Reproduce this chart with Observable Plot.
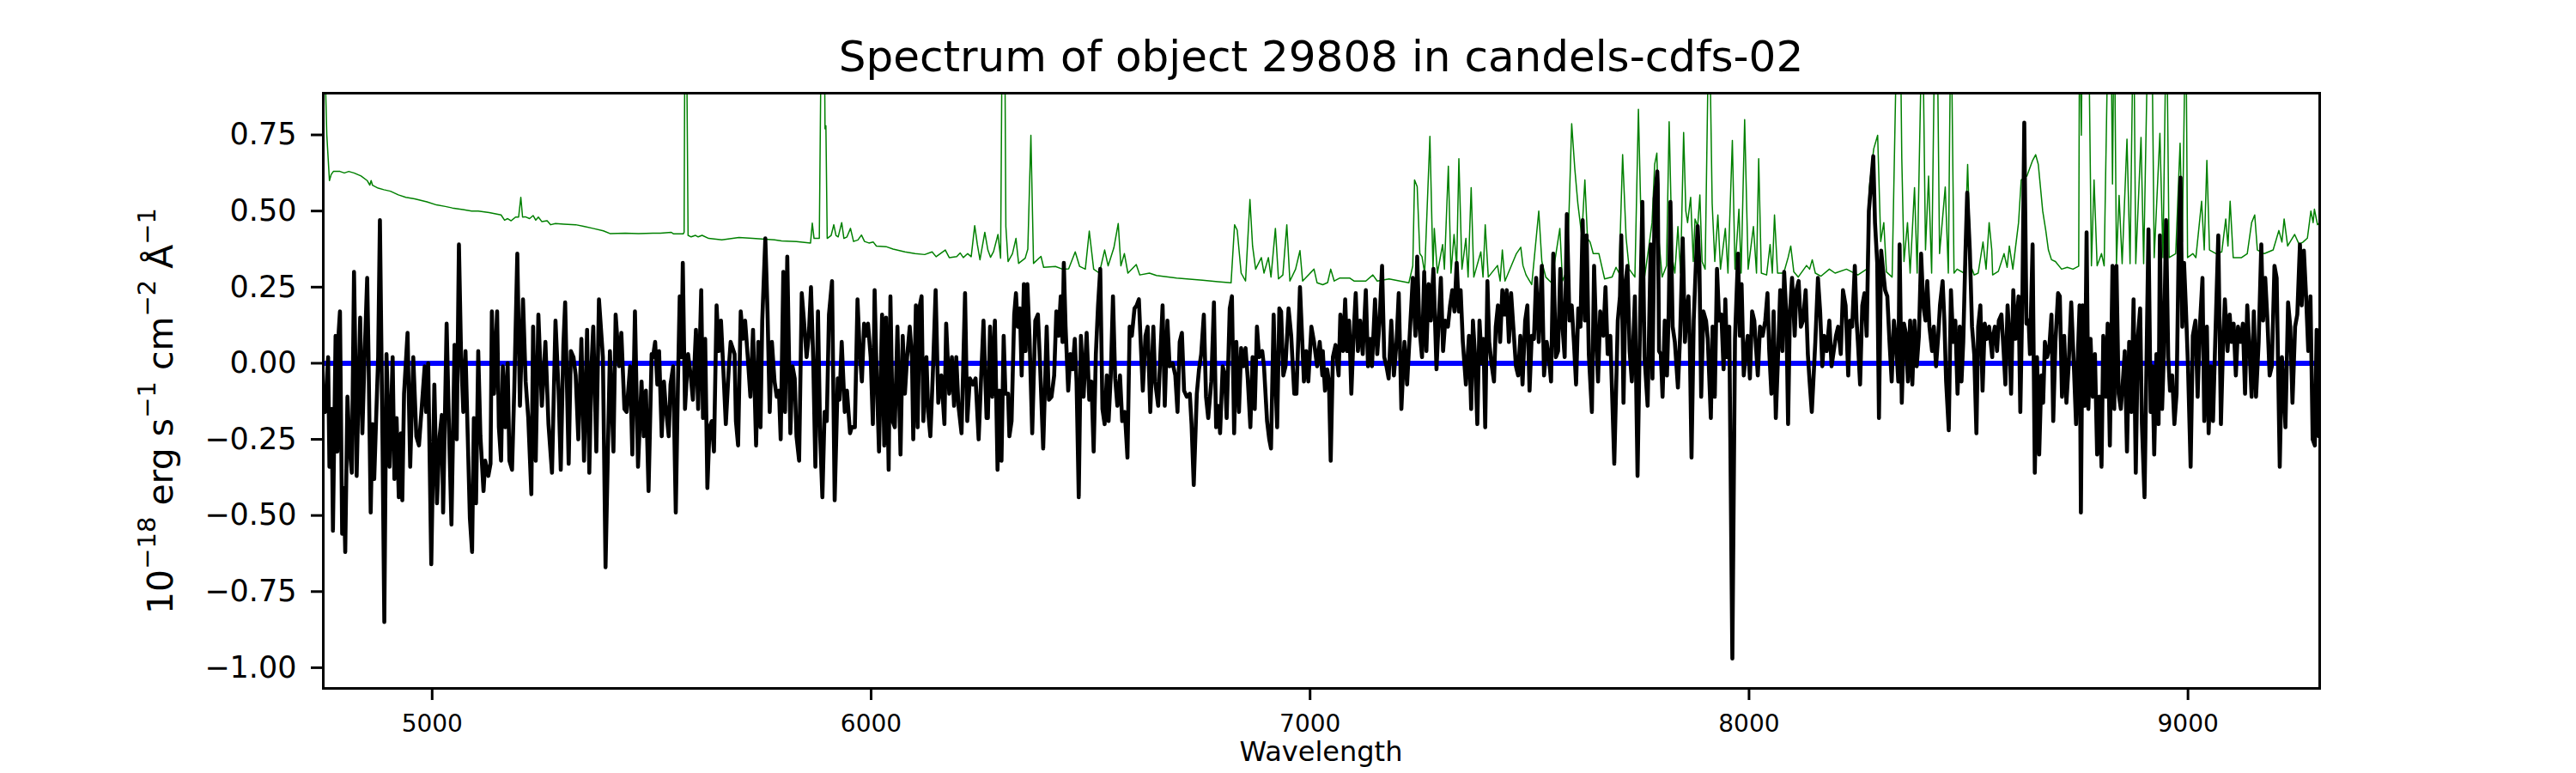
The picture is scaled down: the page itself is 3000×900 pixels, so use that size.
<!DOCTYPE html>
<html>
<head>
<meta charset="utf-8">
<script src="https://cdn.jsdelivr.net/npm/d3@7"></script>
<script src="https://cdn.jsdelivr.net/npm/@observablehq/plot@0.6"></script>
<style>
  html, body { margin: 0; padding: 0; background: #ffffff; }
  #chart svg { display: block; }
</style>
</head>
<body>
<div id="chart"></div>
<script>
// ---- Chart text ----
const titleText = "Spectrum of object 29808 in candels-cdfs-02";
const xLabelText = "Wavelength";
// y label pieces: [text, isSuperscript]
const yLabelParts = [["10", false], ["\u221218", true], [" erg s", false], ["\u22121", true], [" cm", false], ["\u22122", true], [" \u00c5", false], ["\u22121", true]];

// ---- Axes ----
const xDomain = [4752, 9300];
const yDomain = [-1.068, 0.887];
const xTicks = [5000, 6000, 7000, 8000, 9000];
const yTicks = [-1.0, -0.75, -0.5, -0.25, 0, 0.25, 0.5, 0.75];
const zeroLevel = [0];

const flux1 = [[4752,-.15],[4756,-.16],[4763,.02],[4766,-.34],[4771,-.15],[4774,-.55],[4780,.09],[4784,-.29],[4787,.10],[4790,.17],[4795,-.56],[4799,-.41],[4802,-.62],[4807,-.11],[4812,-.28],[4817,-.36],[4822,.30],[4825,.02],[4828,-.37],[4836,.15],[4841,-.23],[4846,.02],[4852,.28],[4855,.03],[4860,-.49],[4864,-.20],[4868,-.38],[4872,-.20],[4877,.02],[4881,.47],[4887,-.27],[4891,-.85],[4896,.03],[4903,-.34],[4910,.02],[4914,-.38],[4919,-.18],[4924,-.44],[4929,-.23],[4932,-.45],[4936,-.10],[4944,.10],[4950,-.34],[4957,.02],[4964,-.24],[4970,-.27],[4976,-.15],[4983,-.01],[4986,-.16],[4991,0],[4998,-.66],[5005,-.07],[5011,-.46],[5017,-.24],[5022,-.17],[5025,-.49],[5033,.13],[5039,-.25],[5044,-.53],[5051,.06],[5056,-.25],[5061,.39],[5066,.02],[5071,-.16],[5076,.04],[5086,-.51],[5091,-.62],[5095,-.18],[5100,-.46],[5105,.04],[5110,-.24],[5117,-.42],[5121,-.32],[5128,-.37],[5133,-.33],[5136,.17],[5141,-.10],[5148,.17],[5152,-.21],[5157,-.32],[5161,-.01],[5167,-.21],[5172,0],[5176,-.32],[5182,-.35],[5187,-.09],[5194,.36],[5200,-.14],[5207,.21],[5213,-.06],[5219,-.18],[5226,-.43],[5230,.12],[5236,-.32],[5242,.16],[5250,-.14],[5258,.07],[5265,-.20],[5273,-.36],[5281,.14],[5288,-.09],[5293,-.35],[5299,.06],[5303,.20],[5311,-.33],[5316,.04],[5322,.02],[5327,-.04],[5333,-.25],[5340,.08],[5346,-.32],[5353,.11],[5358,-.36],[5363,-.01],[5367,.12],[5374,-.29],[5380,.21],[5389,.02],[5395,-.67],[5405,.04],[5413,-.29],[5418,.16],[5426,-.01],[5431,.10],[5438,-.15],[5443,-.16],[5451,-.01],[5456,-.30],[5462,.17],[5469,-.34],[5477,-.06],[5482,-.24],[5487,-.09],[5493,-.42],[5500,.03]];
const flux2 = [[5503,.02],[5508,.07],[5513,-.07],[5517,.04],[5523,-.24],[5528,-.06],[5532,-.14],[5539,-.24],[5543,-.07],[5549,-.01],[5555,-.49],[5560,-.06],[5564,.22],[5568,.02],[5571,.33],[5576,-.15],[5583,.03],[5589,-.04],[5594,-.12],[5601,.11],[5606,-.15],[5613,.24],[5617,-.18],[5622,.08],[5627,-.41],[5632,-.21],[5637,-.19],[5642,-.29],[5648,.19],[5653,.04],[5658,.14],[5663,-.01],[5669,-.20],[5676,-.01],[5680,.07],[5689,.03],[5692,-.19],[5697,-.27],[5703,.17],[5708,.08],[5713,.14],[5719,.02],[5725,-.11],[5731,.11],[5738,-.27],[5743,.07],[5748,-.21],[5752,.14],[5759,.41],[5764,.17],[5769,-.16],[5774,.07],[5780,-.06],[5785,-.11],[5790,-.09],[5794,-.25],[5800,.30],[5804,-.16],[5809,.35],[5816,-.23],[5821,-.01],[5826,-.05],[5830,-.24],[5836,-.32],[5842,.23],[5847,.14],[5853,.02],[5858,.09],[5863,.25],[5868,.02],[5873,-.34],[5879,.17],[5884,-.24],[5889,-.44],[5894,-.16],[5899,-.19],[5904,.16],[5911,.27],[5917,-.45],[5924,-.05],[5928,-.12],[5933,.07],[5940,-.16],[5945,-.09],[5952,-.23],[5956,-.21],[5963,-.21],[5969,.21],[5974,.04],[5979,-.06],[5984,.13],[5989,.09],[5993,.13],[5999,.02],[6004,-.20],[6008,.24],[6013,-.06],[6018,-.29],[6025,.16],[6030,-.27],[6034,.15],[6040,-.35],[6044,.22],[6049,-.19],[6054,-.21],[6060,.12],[6067,-.30],[6072,.09],[6077,-.10],[6082,.02],[6088,.12],[6093,.02],[6096,-.25],[6102,.19],[6106,-.21],[6111,.19],[6115,.22],[6119,-.19],[6126,.02],[6130,-.16],[6135,-.24],[6141,-.02],[6147,.24],[6153,-.13],[6160,-.04],[6167,-.20],[6171,.13],[6178,-.10],[6184,.02],[6189,-.14],[6194,.02],[6199,-.14],[6206,-.23],[6214,.23],[6219,-.19],[6225,-.05],[6232,-.07],[6238,-.05],[6245,-.25],[6250,-.07],[6256,.14],[6263,-.18]];
const flux3 = [[6266,-.18],[6271,.12],[6276,-.11],[6282,.14],[6288,-.35],[6292,-.09],[6297,-.32],[6302,.09],[6306,-.10],[6312,-.10],[6315,-.24],[6320,-.19],[6326,.16],[6330,.23],[6334,.12],[6339,.18],[6343,-.04],[6348,.26],[6352,.04],[6356,.26],[6361,.08],[6367,-.23],[6374,.14],[6380,.16],[6385,-.01],[6392,-.28],[6400,.12],[6405,-.12],[6411,-.11],[6417,-.04],[6422,.17],[6427,.09],[6432,.22],[6436,.07],[6439,.33],[6443,.12],[6449,-.09],[6454,.03],[6459,-.02],[6464,.08],[6468,-.06],[6473,-.44],[6478,.09],[6484,-.11],[6491,.10],[6497,-.12],[6502,-.06],[6507,-.29],[6512,.03],[6517,.19],[6522,.31],[6527,-.15],[6532,-.20],[6537,-.04],[6541,-.19],[6546,-.04],[6551,.22],[6556,-.05],[6561,-.14],[6567,-.04],[6572,-.19],[6578,-.16],[6584,-.31],[6589,.12],[6594,.09],[6600,.18],[6605,.19],[6610,.21],[6615,.04],[6619,-.09],[6625,.09],[6630,.12],[6636,-.16],[6643,.12],[6647,-.06],[6654,-.14],[6659,.03],[6664,.19],[6669,-.14],[6675,.14],[6680,-.01],[6687,0],[6693,-.04],[6698,-.16],[6703,.07],[6708,.10],[6713,-.09],[6719,-.11],[6726,-.10],[6730,-.20],[6735,-.40],[6742,-.10],[6747,-.02],[6752,.03],[6758,.16],[6763,-.11],[6768,-.18],[6775,-.06],[6781,.20],[6786,-.21],[6791,-.14],[6795,-.23],[6801,-.01],[6806,-.04],[6810,-.18],[6817,.18],[6822,.22],[6827,-.23],[6832,.07],[6838,-.16],[6843,.05],[6848,-.01],[6853,.05],[6858,-.05],[6864,-.21],[6869,.02],[6874,-.15],[6879,.12],[6884,.02],[6891,.04],[6895,-.01],[6902,-.19],[6907,-.25],[6911,-.28],[6917,.16],[6920,-.01],[6925,-.21],[6930,.18],[6934,.17],[6939,-.04],[6944,-.01],[6951,.18],[6957,.09],[6964,-.10],[6969,-.10],[6977,.25],[6982,.08],[6986,-.06],[6991,.04],[6996,-.06],[7003,.12],[7009,.07],[7016,-.01],[7022,.07],[7028,-.04]];
const flux4 = [[7029,.04],[7034,-.09],[7039,-.02],[7043,-.06],[7047,-.32],[7052,.02],[7058,.06],[7065,-.04],[7069,.16],[7075,.04],[7080,.21],[7084,.04],[7089,.14],[7094,-.10],[7099,.09],[7104,.23],[7109,.04],[7114,.14],[7120,.03],[7127,.24],[7132,-.01],[7137,.08],[7141,-.01],[7148,.21],[7153,.03],[7158,.13],[7164,.32],[7169,.02],[7174,-.01],[7179,-.05],[7185,.14],[7191,-.04],[7197,.07],[7202,.23],[7208,-.15],[7215,.07],[7221,-.07],[7228,.12],[7234,.28],[7240,.09],[7244,.35],[7249,.12],[7255,.02],[7260,.30],[7265,.04],[7270,.26],[7275,.14],[7281,.31],[7288,-.02],[7293,.14],[7298,.28],[7303,.04],[7308,.14],[7314,.12],[7319,.19],[7324,.24],[7329,.17],[7334,.33],[7339,.17],[7343,.24],[7348,.07],[7355,-.07],[7362,.09],[7367,-.15],[7371,.14],[7376,.02],[7381,-.20],[7386,.14],[7391,0],[7395,.08],[7399,-.21],[7404,.27],[7408,.07],[7414,-.01],[7419,-.06],[7423,.12],[7428,.19],[7433,.07],[7438,.24],[7443,.16],[7448,.24],[7453,.07],[7458,.23],[7463,.12],[7469,-.01],[7474,-.04],[7479,.09],[7484,-.07],[7490,.14],[7495,.19],[7500,-.09],[7505,.09],[7510,.08],[7515,.28],[7521,.07],[7528,.32],[7533,-.04],[7539,.07],[7544,.02],[7549,-.06],[7554,.36],[7560,.02],[7565,.04],[7570,.31],[7575,.12],[7580,.02],[7585,.49],[7591,.14],[7596,.19],[7601,.07],[7606,-.07],[7611,.18],[7616,.12],[7621,.47],[7626,.14],[7630,.42],[7635,.03],[7642,-.16],[7647,.32],[7652,.08],[7656,-.06],[7661,.17],[7668,.09],[7673,.25],[7678,.03],[7684,.09],[7693,-.33],[7701,.14],[7706,.22],[7709,.42],[7714,-.13],[7719,.27],[7723,.32],[7728,.04],[7733,-.06],[7740,.22],[7746,-.37],[7753,.24],[7757,.53],[7762,.02],[7769,-.14],[7776,.39],[7780,-.05],[7785,.54],[7791,.63]];
const flux5 = [[7792,.59],[7795,.04],[7799,.03],[7803,-.11],[7808,.14],[7813,-.04],[7817,.17],[7821,.53],[7826,.12],[7831,.07],[7838,-.08],[7843,.09],[7849,.41],[7854,.07],[7858,.17],[7862,.22],[7865,.07],[7869,-.31],[7874,.14],[7879,.33],[7883,.45],[7887,.32],[7891,-.11],[7896,.17],[7902,.14],[7906,.08],[7913,-.18],[7917,.12],[7922,-.11],[7927,.31],[7932,.14],[7937,.16],[7942,-.02],[7946,.21],[7950,.02],[7955,.12],[7962,-.97],[7968,.08],[7975,.36],[7979,.09],[7983,.26],[7988,-.04],[7993,.04],[7997,.09],[8002,-.05],[8007,.17],[8012,.14],[8016,.05],[8020,-.04],[8025,.12],[8031,.09],[8037,.14],[8042,.23],[8046,.04],[8051,-.10],[8056,.17],[8061,-.18],[8066,.02],[8071,.24],[8076,.04],[8080,.30],[8085,.16],[8089,-.20],[8093,.16],[8098,.28],[8104,.09],[8108,.24],[8113,.27],[8118,.12],[8123,.14],[8129,.24],[8134,.03],[8138,-.06],[8143,-.16],[8151,.07],[8157,.28],[8162,.17],[8167,-.01],[8171,.09],[8177,.04],[8183,.14],[8188,-.01],[8193,.04],[8198,.09],[8203,.12],[8209,.03],[8214,.24],[8220,.19],[8226,-.04],[8230,.14],[8235,.12],[8241,.32],[8245,.14],[8248,.07],[8253,-.07],[8258,.19],[8263,.23],[8268,.09],[8273,.50],[8278,.59],[8283,.68],[8287,.46],[8292,.33],[8296,-.18],[8301,.37],[8305,.31],[8310,.24],[8315,.22],[8320,.07],[8325,-.06],[8330,.14],[8334,.09],[8340,-.06],[8343,.39],[8348,-.13],[8353,.13],[8357,.10],[8362,-.06],[8367,.14],[8372,-.07],[8377,.14],[8382,-.01],[8387,.09],[8392,.36],[8397,.19],[8402,.14],[8406,.27],[8411,.12],[8417,.04],[8421,.12],[8426,-.01],[8431,.09],[8435,.19],[8441,.27],[8445,.14],[8449,-.06],[8455,-.22],[8460,.24],[8465,.07],[8470,.14],[8475,-.10],[8480,.12],[8484,-.06],[8488,.07],[8493,.36],[8497,.56],[8503,.37],[8508,.12],[8513,.03],[8518,-.23],[8522,.12],[8527,.19],[8532,-.09],[8537,.13],[8542,.08],[8547,.12],[8554,.02]];
const flux6 = [[8555,.08],[8560,.12],[8565,.04],[8569,.14],[8575,.16],[8580,.04],[8584,-.07],[8589,.19],[8593,.09],[8597,-.10],[8602,.24],[8607,.08],[8614,.22],[8618,-.16],[8623,.24],[8627,.79],[8632,.13],[8637,.14],[8640,.03],[8646,.39],[8651,-.36],[8656,.02],[8661,-.30],[8666,-.04],[8670,-.13],[8674,.07],[8679,.02],[8684,.05],[8689,.16],[8693,-.19],[8698,.07],[8704,.23],[8708,.22],[8713,-.11],[8718,.09],[8723,-.13],[8728,-.01],[8734,.20],[8740,-.01],[8745,-.20],[8749,.02],[8753,.19],[8756,-.49],[8760,.19],[8765,-.14],[8769,.43],[8773,-.15],[8778,.08],[8783,-.11],[8788,.03],[8793,-.30],[8798,-.11],[8803,-.34],[8807,.09],[8813,-.11],[8817,.13],[8822,-.27],[8828,.32],[8832,-.15],[8837,.32],[8842,-.10],[8847,-.15],[8852,-.05],[8856,.04],[8861,-.29],[8866,.07],[8871,-.16],[8876,.21],[8881,-.36],[8886,.09],[8891,.18],[8895,-.20],[8901,-.44],[8905,-.04],[8910,.44],[8915,-.16],[8919,-.01],[8923,-.30],[8928,.03],[8933,-.20],[8936,.42],[8941,-.15],[8945,.03],[8950,.47],[8955,.02],[8959,-.09],[8964,-.04],[8969,-.20],[8974,-.10],[8979,.40],[8983,.61],[8987,.12],[8991,.33],[8995,.19],[9000,-.01],[9006,-.34],[9011,.09],[9017,.14],[9022,-.11],[9027,.12],[9033,.28],[9037,-.19],[9043,.12],[9047,-.23],[9052,-.01],[9057,-.19],[9062,.07],[9069,.42],[9075,-.20],[9080,.07],[9084,.21],[9090,.04],[9095,.16],[9099,.07],[9104,.13],[9109,-.04],[9114,.12],[9120,.07],[9125,.13],[9130,-.10],[9135,.19],[9141,.02],[9145,-.11],[9150,.17],[9155,-.11],[9161,.07],[9167,.39],[9171,.14],[9176,.28],[9181,.14],[9186,-.04],[9191,-.01],[9197,.32],[9202,.28],[9209,-.34],[9214,.02],[9217,-.05],[9222,-.21],[9228,.20],[9233,.12],[9238,-.13],[9244,.12],[9249,.16],[9255,.39],[9259,.19],[9264,.37],[9269,.22],[9274,.04],[9279,.22],[9284,-.25],[9289,-.27],[9293,.11],[9298,-.24]];

// ---- Sky / error spectrum (green), [wavelength, value] ----
const sky1 = [[4752,1.2],[4760,.75],[4766,.60],[4770,.62],[4775,.63],[4790,.63],[4800,.625],[4810,.63],[4822,.625],[4838,.615],[4852,.60],[4858,.585],[4861,.60],[4864,.585],[4877,.575],[4890,.57],[4905,.565],[4923,.553],[4940,.545],[4960,.54],[4988,.53],[5010,.52],[5030,.515],[5046,.51],[5070,.505],[5090,.50],[5105,.50],[5130,.495],[5157,.487],[5165,.47],[5172,.475],[5180,.468],[5190,.48],[5197,.48],[5202,.545],[5206,.48],[5212,.481],[5222,.475],[5230,.485],[5236,.47],[5242,.48],[5250,.465],[5262,.468],[5270,.455],[5281,.459],[5300,.457],[5327,.455],[5345,.45],[5366,.443],[5390,.435],[5405,.426],[5440,.427],[5470,.426],[5503,.427],[5520,.427],[5545,.43],[5550,.425],[5572,.425],[5574,.43],[5576,1.2],[5579,1.2],[5583,.42],[5590,.415],[5600,.42],[5606,.415],[5615,.42],[5630,.41],[5660,.405],[5699,.413],[5730,.41],[5751,.408],[5780,.405],[5796,.402],[5830,.40],[5862,.395],[5866,.46],[5870,.41],[5882,.41],[5887,1.2],[5893,1.2],[5895,.77],[5897,.78],[5900,.41],[5909,.42],[5915,.455],[5920,.42],[5925,.415],[5933,.462],[5938,.41],[5945,.415],[5953,.443],[5960,.40],[5970,.405],[5978,.421],[5985,.40],[5995,.395],[6005,.398],[6012,.385],[6034,.383],[6050,.375],[6077,.366],[6100,.36],[6122,.357],[6139,.366],[6148,.35],[6169,.372],[6178,.347],[6195,.35],[6203,.362],[6210,.347],[6220,.36],[6228,.35],[6236,.452],[6242,.39],[6248,.34],[6259,.43],[6266,.372]];
const sky2 = [[6272,.348],[6279,.367],[6289,.423],[6295,.345],[6299,1.2],[6304,1.2],[6307,.449],[6312,.334],[6322,.36],[6330,.41],[6336,.328],[6351,.345],[6357,.375],[6364,.749],[6370,.328],[6387,.351],[6393,.315],[6420,.318],[6436,.309],[6450,.31],[6465,.366],[6475,.318],[6488,.309],[6497,.434],[6507,.309],[6520,.296],[6532,.372],[6540,.32],[6553,.379],[6563,.459],[6569,.32],[6577,.36],[6585,.296],[6604,.324],[6612,.29],[6634,.296],[6650,.288],[6696,.28],[6755,.273],[6790,.268],[6820,.264],[6828,.455],[6834,.437],[6843,.296],[6853,.27],[6863,.538],[6869,.385],[6876,.309],[6889,.347],[6895,.296],[6905,.347],[6911,.283],[6921,.443],[6928,.277],[6938,.29],[6947,.455],[6954,.27],[6967,.309],[6977,.37],[6983,.27],[7009,.309],[7016,.264],[7029,.258],[7040,.265],[7047,.309],[7055,.27],[7068,.28],[7090,.28],[7100,.27],[7127,.27],[7143,.29],[7153,.27],[7180,.277],[7225,.264],[7234,.32],[7238,.602],[7244,.58],[7250,.36],[7255,.35],[7261,.296],[7273,.745],[7280,.309],[7283,.443],[7290,.296],[7302,.39],[7306,.309],[7315,.647],[7321,.296],[7328,.423],[7334,.321],[7339,.672],[7346,.309],[7355,.41],[7360,.283],[7367,.577],[7373,.283],[7389,.366],[7394,.283],[7399,.455],[7406,.283],[7427,.321],[7433,.27],[7438,.372],[7444,.27],[7470,.36],[7480,.381],[7485,.321],[7492,.29],[7505,.258],[7521,.50],[7528,.334],[7537,.283],[7550,.264],[7569,.443],[7575,.27],[7586,.309],[7596,.787],[7603,.64],[7610,.525],[7619,.417],[7626,.602],[7632,.41],[7638,.398],[7645,.36],[7658,.36],[7671,.277],[7688,.283],[7697,.315],[7704,.296],[7712,.685],[7720,.411],[7727,.309],[7740,.283],[7748,.834],[7753,.526],[7762,.283],[7772,.385],[7779,.462],[7785,.653],[7790,.69]];
const sky3 = [[7795,.40],[7802,.283],[7812,.32],[7818,.793],[7825,.347],[7831,.296],[7838,.449],[7844,.296],[7851,.758],[7856,.50],[7860,.462],[7867,.545],[7873,.334],[7877,.474],[7883,.449],[7888,.553],[7893,.334],[7900,.309],[7909,1.2],[7916,.525],[7922,.334],[7929,.487],[7935,.309],[7946,.443],[7952,.296],[7962,.732],[7968,.309],[7977,.506],[7982,.296],[7990,.80],[7998,.309],[8010,.449],[8017,.296],[8022,.672],[8028,.296],[8040,.29],[8048,.39],[8053,.296],[8058,.487],[8065,.296],[8079,.296],[8089,.347],[8095,.385],[8102,.30],[8112,.283],[8131,.321],[8138,.309],[8144,.34],[8151,.296],[8164,.286],[8183,.309],[8196,.296],[8222,.309],[8248,.29],[8268,.309],[8274,.577],[8284,.704],[8293,.749],[8300,.40],[8307,.462],[8313,.30],[8326,.283],[8338,1.2],[8344,1.2],[8348,.672],[8353,.334],[8361,.462],[8367,.296],[8377,.577],[8383,.296],[8395,1.2],[8402,.372],[8409,.615],[8416,.296],[8424,1.2],[8428,1.2],[8434,.36],[8447,.579],[8454,.296],[8460,1.2],[8467,.296],[8474,.309],[8490,.296],[8498,.653],[8505,.321],[8513,.29],[8522,.296],[8533,.398],[8540,.309],[8547,.462],[8553,.372],[8555,.29],[8568,.302],[8581,.36],[8588,.315],[8593,.385],[8601,.309],[8614,.462],[8620,.602],[8633,.615],[8646,.666],[8653,.685],[8659,.653],[8669,.50],[8676,.436],[8682,.372],[8689,.34],[8698,.334],[8712,.309],[8725,.315],[8738,.309],[8751,.319],[8753,1.2],[8757,.749],[8760,1.2],[8767,1.2],[8773,1.2],[8780,.32],[8786,.602],[8793,.32],[8803,.36],[8809,.32],[8819,1.2],[8824,1.2],[8828,.589],[8832,1.2],[8837,.327],[8843,.551],[8850,.327],[8861,.736],[8868,.327],[8876,1.2],[8881,.327],[8893,.742],[8899,.327],[8910,1.2],[8917,1.2],[8923,.347],[8936,.755],[8943,.347],[8951,1.2],[8957,.347],[8972,.36],[8982,.723],[8987,.398],[8995,1.2],[8999,.347],[9011,.36],[9018,.347],[9031,.532],[9037,.372],[9043,.666],[9049,.372],[9064,.36],[9077,.366],[9086,.474],[9091,.385],[9096,.532],[9103,.347],[9122,.347],[9135,.36],[9145,.462],[9152,.487],[9158,.372],[9174,.36],[9194,.372],[9207,.436],[9214,.398],[9219,.474],[9227,.385],[9243,.423],[9253,.391],[9262,.398],[9272,.411],[9280,.50],[9285,.462],[9288,.506],[9295,.455],[9299,.46]];

const flux = [...flux1, ...flux2, ...flux3, ...flux4, ...flux5, ...flux6];
const sky = [...sky1, ...sky2, ...sky3];

const W = 3000, H = 900;
const mL = 376, mR = 299, mT = 108, mB = 99;

const chart = Plot.plot({
  width: W,
  height: H,
  marginLeft: mL,
  marginRight: mR,
  marginTop: mT,
  marginBottom: mB,
  style: { fontFamily: "DejaVu Sans", background: "#ffffff", color: "#000000" },
  x: { domain: xDomain, label: null },
  y: { domain: yDomain, label: null },
  marks: [
    Plot.line(sky, { x: d => d[0], y: d => d[1], stroke: "#008000", strokeWidth: 1.5, clip: true }),
    Plot.ruleY(zeroLevel, { stroke: "#0000ff", strokeWidth: 6 }),
    Plot.line(flux, { x: d => d[0], y: d => d[1], stroke: "#000000", strokeWidth: 4.6, clip: true }),
    Plot.frame({ stroke: "#000000", strokeWidth: 3 }),
    Plot.axisX({ ticks: xTicks, tickSize: 14, tickPadding: 17, fontSize: 28, strokeWidth: 3, tickFormat: d => String(d), label: null }),
    Plot.axisY({ ticks: yTicks, tickSize: 14, tickPadding: 17, fontSize: 35, strokeWidth: 3, tickFormat: d3.format(".2f"), label: null })
  ]
});

const svg = d3.select(chart);
const cx = mL + (W - mL - mR) / 2;

svg.append("text")
  .attr("x", cx).attr("y", 83)
  .attr("text-anchor", "middle")
  .attr("font-family", "DejaVu Sans")
  .attr("font-size", 50)
  .attr("fill", "#000")
  .text(titleText);

svg.append("text")
  .attr("x", cx).attr("y", 886)
  .attr("text-anchor", "middle")
  .attr("font-family", "DejaVu Sans")
  .attr("font-size", 32)
  .attr("fill", "#000")
  .text(xLabelText);

const yl = svg.append("text")
  .attr("transform", `translate(201,${(mT + H - mB) / 2 + 24}) rotate(-90)`)
  .attr("text-anchor", "middle")
  .attr("font-family", "DejaVu Sans")
  .attr("font-size", 41)
  .attr("fill", "#000");
let raised = false;
for (const [t, sup] of yLabelParts) {
  const ts = yl.append("tspan").text(t);
  if (sup) {
    ts.attr("font-size", 29);
    if (!raised) ts.attr("dy", -20);
    raised = true;
  } else if (raised) {
    ts.attr("dy", 20);
    raised = false;
  }
}

document.getElementById("chart").appendChild(chart);
</script>
</body>
</html>
